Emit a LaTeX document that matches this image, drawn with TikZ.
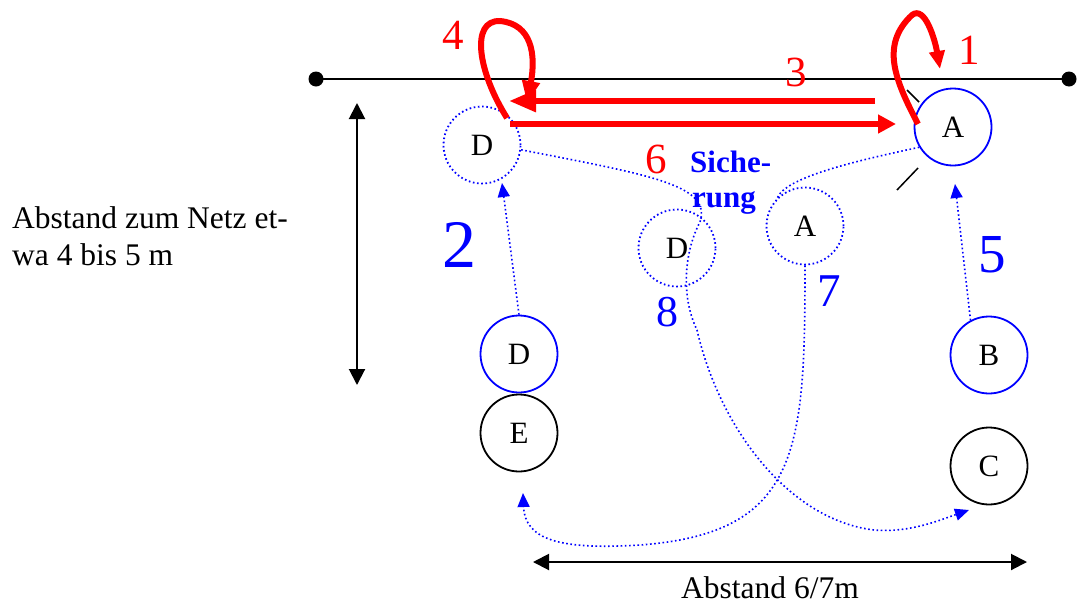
\documentclass[tikz,border=0pt]{standalone}
\usepackage{fontspec}
\setmainfont{Liberation Serif}
\usetikzlibrary{arrows.meta}
\begin{document}
\begin{tikzpicture}[x=1pt,y=-1pt,
  player/.style={circle, minimum size=77pt, inner sep=0pt, line width=1.8pt, font=\fontsize{31}{36}\selectfont},
  solidblue/.style={player, draw=blue},
  dotblue/.style={player, draw=blue, dash pattern=on 1.6pt off 2.6pt},
  solidblack/.style={player, draw=black},
  run/.style={blue, line width=1.6pt, dash pattern=on 1.6pt off 2.6pt},
  runarrow/.style={run, -{Triangle[length=14pt,width=12pt]}},
  measure/.style={black, line width=2pt, {Triangle[length=16pt,width=16pt]}-{Triangle[length=16pt,width=16pt]}},
  redline/.style={red, line width=6pt},
  lbl/.style={inner sep=0pt, anchor=center},
  txt/.style={inner sep=0pt, anchor=base west, font=\fontsize{31.5}{37}\selectfont},
  endpt/.style={circle, fill=black, minimum size=15pt, inner sep=0pt}
]
\useasboundingbox (0,0) rectangle (1078,603);

% net
\node[endpt] (n1) at (316,79) {};
\node[endpt] (n2) at (1069,79) {};
\draw[line width=1.8pt] (n1.center) -- (n2.center);

% positions
\node[solidblue] (Atr) at (953,127) {A};
\node[dotblue] (Dtl) at (482,145) {D};
\node[dotblue] (Dm) at (677,248) {D};
\node[dotblue] (Am) at (805,226) {A};
\node[solidblue] (Dl) at (519,354) {D};
\node[solidblack] (E) at (519,433) {E};
\node[solidblue] (B) at (989,355) {B};
\node[solidblack] (C) at (989,466) {C};

% free ends
\coordinate (r3s) at (875,101);
\coordinate (r3e) at (509,101);
\coordinate (rls) at (510,124);
\coordinate (rle) at (896,124);
\coordinate (l4s) at (507,118);
\coordinate (l4e) at (527,103);
\coordinate (l1s) at (918,124);
\coordinate (l1e) at (940,69);
\coordinate (t2) at (502,183);
\coordinate (t5) at (955,184);
\coordinate (tC) at (969,510);
\coordinate (tE) at (523,493);
\coordinate (k1a) at (907,90);
\coordinate (k1b) at (919,102);
\coordinate (k2a) at (897,190);
\coordinate (k2b) at (918,168);
\coordinate (vt) at (357,103);
\coordinate (vb) at (357,385);
\coordinate (hl) at (533,562);
\coordinate (hr) at (1027,562);

% measures
\draw[measure] (vt) -- (vb);
\draw[measure] (hl) -- (hr);

% red moves
\draw[redline, -{Triangle[length=27pt,width=21pt]}] (r3s) -- (r3e);
\draw[redline, -{Triangle[length=18pt,width=18pt]}] (rls) -- (rle);
\draw[redline, -{Triangle[length=22pt,width=17pt]}] (l4s) .. controls (478,72) and (470,20) .. (500,21) .. controls (532,24) and (536,55) .. (l4e);
\draw[redline, -{Triangle[length=18pt,width=15pt]}] (l1s) .. controls (895,80) and (880,45) .. (912,15) .. controls (925,5) and (935,40) .. (l1e);

% small ticks
\draw[line width=1.5pt] (k1a) -- (k1b);
\draw[line width=1.5pt] (k2a) -- (k2b);

% blue runs
\draw[runarrow] (Dl.north) -- (t2);
\draw[runarrow] (B.118) -- (t5);
\draw[runarrow] (Dtl.-7) .. controls (650,175) and (712,185) .. (700,222)
  .. controls (685,250) and (680,295) .. (697,330)
  .. controls (720,430) and (790,520) .. (874,530)
  .. controls (910,533) and (940,520) .. (tC);
\draw[run] (Atr.211) .. controls (850,162) and (785,178) .. (Am.135);
\draw[runarrow] (Am.south) .. controls (805,450) and (800,533) .. (640,545)
  .. controls (560,550) and (525,540) .. (tE);

% numbers
\node[lbl, red, font=\fontsize{43}{50}\selectfont] (L4) at (453,35) {4};
\node[lbl, red, font=\fontsize{43}{50}\selectfont] (L1) at (969,50) {1};
\node[lbl, red, font=\fontsize{43}{50}\selectfont] (L3) at (796,72) {3};
\node[lbl, red, font=\fontsize{43}{50}\selectfont] (L6) at (656,159) {6};
\node[lbl, blue, font=\fontsize{68}{80}\selectfont] (L2) at (459,245) {2};
\node[lbl, blue, font=\fontsize{55}{64}\selectfont] (L5) at (992,255) {5};
\node[lbl, blue, font=\fontsize{47}{55}\selectfont] (L7) at (829,291) {7};
\node[lbl, blue, font=\fontsize{44}{52}\selectfont] (L8) at (667,312) {8};

% texts
\node[txt, blue, font=\fontsize{31}{37}\selectfont\bfseries] (s1) at (690,172) {Siche-};
\node[txt, blue, font=\fontsize{31}{37}\selectfont\bfseries] (s2) at (692,207) {rung};
\node[txt] (t1) at (12,228) {Abstand zum Netz et-};
\node[txt] (t2b) at (12,265) {wa 4 bis 5 m};
\node[txt, anchor=base] (t3) at (770,598) {Abstand 6/7m};
\end{tikzpicture}
\end{document}
